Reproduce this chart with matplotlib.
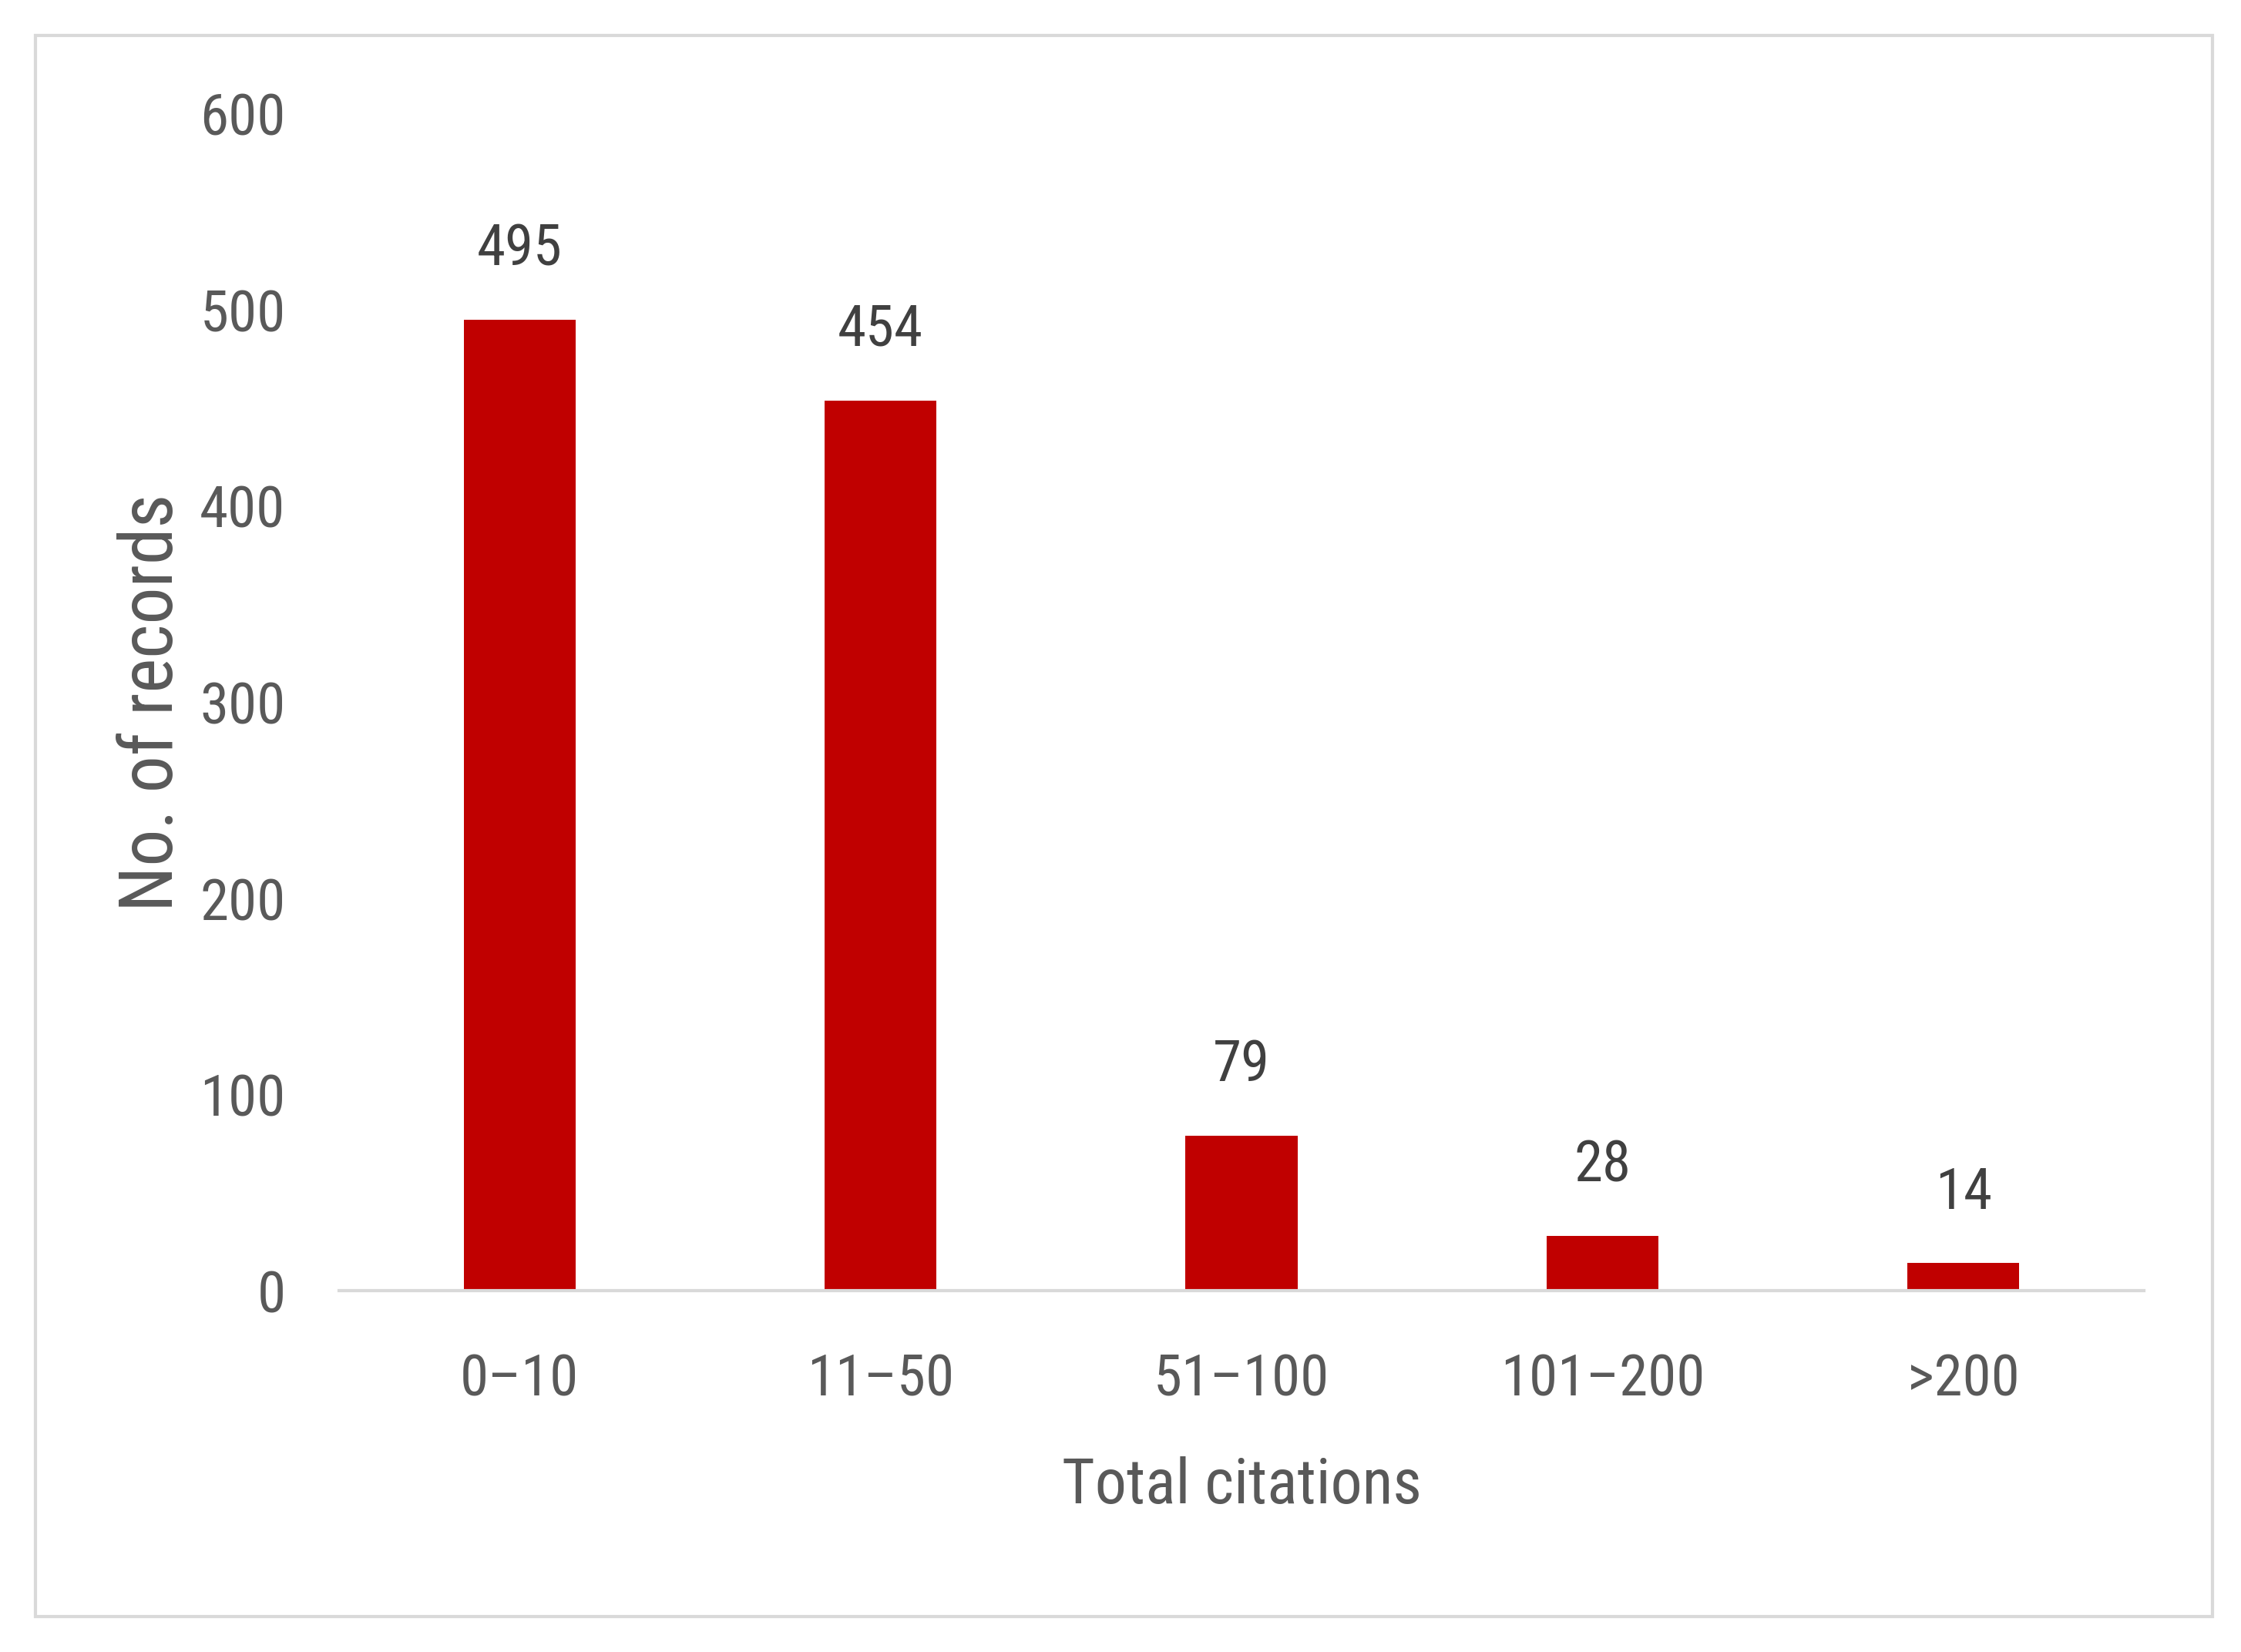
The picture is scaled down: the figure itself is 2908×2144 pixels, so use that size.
import matplotlib
matplotlib.use("Agg")
import matplotlib.pyplot as plt
from matplotlib import font_manager
from matplotlib.patches import Rectangle

categories = ["0–10", "11–50", "51–100", "101–200", ">200"]
values = [495, 454, 79, 28, 14]
yticks = [0, 100, 200, 300, 400, 500, 600]
xlabel = "Total citations"
ylabel = "No. of records"

names = {f.name for f in font_manager.fontManager.ttflist}
fam = "Liberation Sans"
for cand in ["Roboto Condensed", "Liberation Sans Narrow", "Open Sans Condensed"]:
    if cand in names:
        fam = cand
        break
plt.rcParams["font.family"] = [fam, "DejaVu Sans"]

TXT = "#595959"
BAR = "#C00000"
AX = "#D9D9D9"

fig = plt.figure(figsize=(29.08, 21.44), dpi=100)
fig.patches.append(Rectangle((46 / 2908, 1 - 2098 / 2144), (2871 - 46) / 2908, (2098 - 46) / 2144,
                             transform=fig.transFigure, fill=False, edgecolor=AX, linewidth=3))
ax = fig.add_axes([0.1513, 0.2187, 0.8054, 0.7123])

x = list(range(len(categories)))
ax.bar(x, values, width=0.31, color=BAR, zorder=2)
for xi, v in zip(x, values):
    ax.annotate(str(v), (xi, v), xytext=(0, 40), textcoords="offset points",
                ha="center", va="bottom", fontsize=54, color="#404040")

ax.set_xlim(-0.5, len(categories) - 0.5)
ax.set_ylim(0, 600)
ax.set_yticks(yticks)
ax.set_xticks(x)
ax.set_xticklabels(categories)
ax.tick_params(axis="both", length=0, labelsize=54, labelcolor=TXT)
ax.tick_params(axis="x", pad=58)
ax.tick_params(axis="y", pad=50)
for s in ["top", "right", "left"]:
    ax.spines[s].set_visible(False)
ax.spines["bottom"].set_color(AX)
ax.spines["bottom"].set_linewidth(3)

ax.set_xlabel(xlabel, fontsize=59, color=TXT)
ax.xaxis.set_label_coords(0.5, -0.1663)
ax.xaxis.label.set_va("center")
ax.set_ylabel(ylabel, fontsize=69, color=TXT)
ax.yaxis.set_label_coords(-0.1033, 0.5)
ax.yaxis.label.set_va("center")

fig.savefig("out.png", dpi=100)
